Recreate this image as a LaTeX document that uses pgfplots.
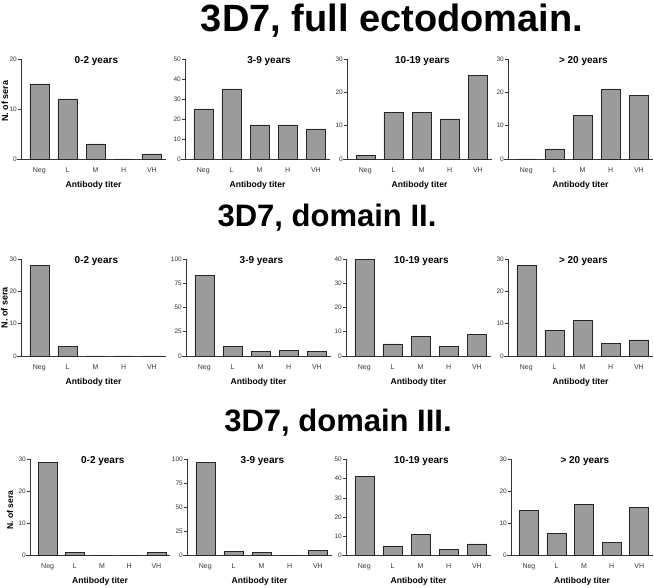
\documentclass[border=0pt]{standalone}
\usepackage{fontspec}
\setmainfont{Liberation Sans}
\usepackage{pgfplots}
\pgfplotsset{compat=1.18}
\definecolor{barfill}{RGB}{155,155,155}
\definecolor{axcol}{RGB}{55,55,55}
\pgfplotsset{
  panel/.style={
    scale only axis, width=145pt, height=100pt,
    xmin=-0.65, xmax=4.5, ymin=0,
    axis x line*=bottom, axis y line*=left,
    axis line style={-, axcol, line width=0.6pt},
    x axis line style={shorten <=-4pt},
    xtick={0,1,2,3,4}, xticklabels={Neg,L,M,H,VH},
    xtick style={draw=none},
    ytick style={axcol, line width=0.6pt},
    tick align=outside, major tick length=3pt,
    xticklabel style={font=\fontsize{7}{8}\selectfont, text=axcol, yshift=-2pt},
    yticklabel style={font=\fontsize{6.5}{7}\selectfont, text=axcol, inner sep=1pt},
    /pgf/number format/assume math mode=true,
    xlabel={Antibody titer},
    xlabel style={font=\bfseries\fontsize{8.6}{10}\selectfont, at={(axis description cs:0.5,0)}, anchor=center, yshift=-26pt},
    title style={font=\bfseries\fontsize{10}{12}\selectfont, at={(axis description cs:0.52,1)}, anchor=center, yshift=-8pt},
    ybar, bar width=19pt,
    clip=false,
  },
  bars/.style={fill=barfill, draw=black!85, line width=0.6pt},
}
\begin{document}
\begin{tikzpicture}
\path[use as bounding box] (0pt,0pt) rectangle (654pt,587pt);
% Row titles
\node[anchor=base, font=\bfseries\fontsize{38}{40}\selectfont] at (392pt,555pt) {3D7, full ectodomain.};
\node[anchor=base, font=\bfseries\fontsize{31}{33}\selectfont] at (327pt,360pt) {3D7, domain II.};
\node[anchor=base, font=\bfseries\fontsize{31}{33}\selectfont] at (338pt,155pt) {3D7, domain III.};
% ---------- Row 1 ----------
\begin{axis}[panel, at={(21pt,428pt)}, anchor=south west, ymax=20, ytick={0,10,20}, title={0-2 years}, ylabel={N. of sera},
  ylabel style={font=\bfseries\fontsize{9}{10}\selectfont, at={(axis description cs:0,0.58)}, anchor=center, yshift=16pt}]
\addplot[bars] coordinates {(0,15) (1,12) (2,3) (3,0) (4,1)};
\end{axis}
\begin{axis}[panel, at={(185pt,428pt)}, anchor=south west, ymax=50, ytick={0,10,20,30,40,50}, title={3-9 years}, title style={at={(axis description cs:0.58,1)}}]
\addplot[bars] coordinates {(0,25) (1,35) (2,17) (3,17) (4,15)};
\end{axis}
\begin{axis}[panel, at={(347pt,428pt)}, anchor=south west, ymax=30, ytick={0,10,20,30}, title={10-19 years}]
\addplot[bars] coordinates {(0,1) (1,14) (2,14) (3,12) (4,25)};
\end{axis}
\begin{axis}[panel, at={(508pt,428pt)}, anchor=south west, ymax=30, ytick={0,10,20,30}, title={> 20 years}]
\addplot[bars] coordinates {(0,0) (1,3) (2,13) (3,21) (4,19)};
\end{axis}
% ---------- Row 2 ----------
\begin{axis}[panel, height=97pt, at={(21pt,231pt)}, anchor=south west, ymax=30, ytick={0,10,20,30}, title={0-2 years}, ylabel={N. of sera},
  ylabel style={font=\bfseries\fontsize{9}{10}\selectfont, at={(axis description cs:0,0.5)}, anchor=center, yshift=16.5pt}]
\addplot[bars] coordinates {(0,28) (1,3) (2,0) (3,0) (4,0)};
\end{axis}
\begin{axis}[panel, height=97pt, at={(186pt,231pt)}, anchor=south west, ymax=100, ytick={0,25,50,75,100}, title={3-9 years}]
\addplot[bars] coordinates {(0,83) (1,10) (2,5) (3,6) (4,5)};
\end{axis}
\begin{axis}[panel, height=97pt, at={(346pt,231pt)}, anchor=south west, ymax=40, ytick={0,10,20,30,40}, title={10-19 years}]
\addplot[bars] coordinates {(0,40) (1,5) (2,8) (3,4) (4,9)};
\end{axis}
\begin{axis}[panel, height=97pt, at={(508pt,231pt)}, anchor=south west, ymax=30, ytick={0,10,20,30}, title={> 20 years}]
\addplot[bars] coordinates {(0,28) (1,8) (2,11) (3,4) (4,5)};
\end{axis}
% ---------- Row 3 ----------
\begin{axis}[panel, height=96pt, width=140pt, at={(30pt,31.5pt)}, anchor=south west, ymax=30, ytick={0,10,20,30}, title={0-2 years}, ylabel={N. of sera},
  ylabel style={font=\bfseries\fontsize{8.6}{10}\selectfont, at={(axis description cs:0,0.47)}, anchor=center, yshift=20pt}]
\addplot[bars] coordinates {(0,29) (1,1) (2,0) (3,0) (4,1)};
\end{axis}
\begin{axis}[panel, height=96pt, at={(187pt,31.5pt)}, anchor=south west, ymax=100, ytick={0,25,50,75,100}, title={3-9 years}]
\addplot[bars] coordinates {(0,97) (1,4) (2,3) (3,0) (4,5)};
\end{axis}
\begin{axis}[panel, height=96pt, at={(346pt,31.5pt)}, anchor=south west, ymax=50, ytick={0,10,20,30,40,50}, title={10-19 years}]
\addplot[bars] coordinates {(0,41) (1,5) (2,11) (3,3) (4,6)};
\end{axis}
\begin{axis}[panel, height=96pt, width=142pt, at={(511pt,31.5pt)}, anchor=south west, ymax=30, ytick={0,10,20,30}, title={> 20 years}]
\addplot[bars] coordinates {(0,14) (1,7) (2,16) (3,4) (4,15)};
\end{axis}
\end{tikzpicture}
\end{document}
